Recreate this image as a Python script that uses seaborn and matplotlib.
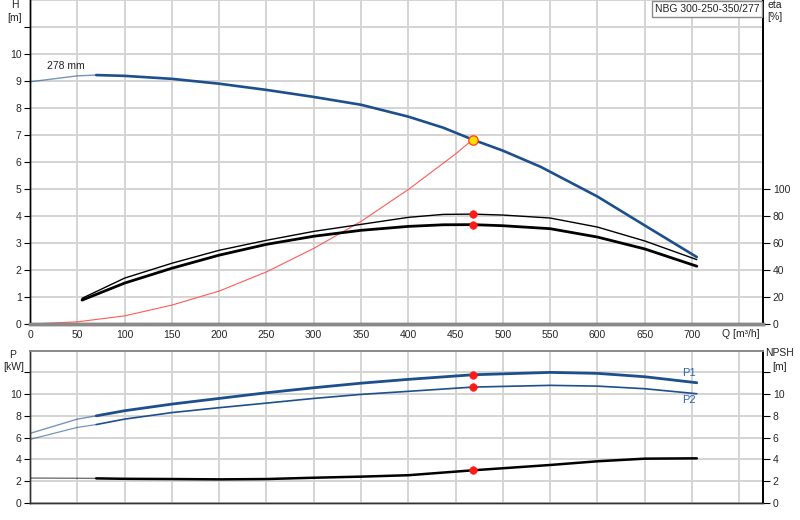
import matplotlib
matplotlib.use("Agg")
import matplotlib.pyplot as plt
import seaborn as sns
import numpy as np

# ---------------- data ----------------
Q_H = [0, 50, 70, 100, 150, 200, 250, 300, 350, 400, 437, 468, 500, 540, 600, 650, 705]
H = [8.97, 9.19, 9.22, 9.19, 9.08, 8.9, 8.67, 8.41, 8.12, 7.68, 7.27, 6.83, 6.42, 5.82, 4.72, 3.65, 2.48]

Q_eta = [55, 100, 150, 200, 250, 300, 350, 400, 437, 468, 500, 550, 600, 650, 705]
eta_upper = [19, 34, 45, 54.6, 62, 68.6, 73.8, 79.0, 81.2, 81.4, 80.7, 78.5, 71.8, 61.5, 47.7]
eta_lower = [17.7, 30.3, 41.3, 51, 59, 65, 69.4, 72.3, 73.5, 73.6, 72.8, 70.6, 64.4, 55.6, 42.8]

Q_sys = [0, 50, 100, 150, 200, 250, 300, 350, 400, 450, 468]
H_sys = [0, 0.08, 0.30, 0.70, 1.22, 1.93, 2.80, 3.80, 4.98, 6.30, 6.83]

Q_P = [0, 50, 70, 100, 150, 200, 250, 300, 350, 400, 468, 550, 600, 650, 705]
P1 = [6.39, 7.7, 8.0, 8.47, 9.08, 9.6, 10.12, 10.58, 11.0, 11.35, 11.77, 11.99, 11.9, 11.59, 11.04]
P2 = [5.84, 6.94, 7.2, 7.7, 8.3, 8.75, 9.17, 9.6, 9.97, 10.25, 10.64, 10.8, 10.73, 10.49, 10.03]
NPSH = [2.29, 2.27, 2.26, 2.22, 2.2, 2.17, 2.2, 2.32, 2.42, 2.55, 3.0, 3.49, 3.83, 4.07, 4.1]

Q_duty = 468
H_duty = 6.83
eta_duty = [81.4, 73.6]
P_duty = [11.77, 10.64]
NPSH_duty = 3.0

x_ticks = list(range(0, 701, 50))
H_ticks = list(range(0, 11))
eta_ticks = list(range(0, 101, 20))
P_ticks = list(range(0, 11, 2))

title_text = "NBG 300-250-350/277"
curve_label = "278 mm"

# ---------------- style ----------------
sns.set_theme(style="white")
plt.rcParams['font.family'] = ['Liberation Sans', 'DejaVu Sans']
FS = 7.5
BLUE = "#1c4f8c"
GRID = "#d4d4d4"

fig = plt.figure(figsize=(8, 5.2), dpi=100)
fig.patch.set_facecolor("white")

L, R = 30 / 800, 763 / 800
ax1 = fig.add_axes([L, 1 - 324 / 520, R - L, 324 / 520])
ax2 = fig.add_axes([L, 1 - 503 / 520, R - L, (503 - 350.5) / 520])

XMAX = 775

def grid(ax, ymax, ystep):
    for q in range(0, 751, 50):
        ax.axvline(q, color=GRID, lw=1.4, zorder=0)
    for v in np.arange(0, ymax + 0.01, ystep):
        ax.axhline(v, color=GRID, lw=1.4, zorder=0)

# ---------------- top panel ----------------
ax1.set_xlim(0, XMAX)
ax1.set_ylim(0, 12)
grid(ax1, 12, 1)

def split_plot(ax, x, y, cut, color, lw, lw_thin, alpha_thin=0.6):
    xs = np.array(x); ys = np.array(y)
    m1 = xs <= cut
    m2 = xs >= cut
    sns.lineplot(x=xs[m1], y=ys[m1], ax=ax, color=color, lw=lw_thin, alpha=alpha_thin,
                 sort=False, estimator=None)
    sns.lineplot(x=xs[m2], y=ys[m2], ax=ax, color=color, lw=lw, sort=False, estimator=None)

split_plot(ax1, Q_H, H, 70, BLUE, 1.9, 1.0)
sns.lineplot(x=Q_sys, y=H_sys, ax=ax1, color="#ff5a5a", lw=0.8, sort=False, estimator=None)

ax1r = ax1.twinx()
ax1r.set_ylim(0, 240)
ax1r.set_xlim(0, XMAX)
sns.lineplot(x=Q_eta, y=eta_upper, ax=ax1r, color="black", lw=1.0, sort=False, estimator=None)
sns.lineplot(x=Q_eta, y=eta_lower, ax=ax1r, color="black", lw=2.0, sort=False, estimator=None)
sns.scatterplot(x=[Q_duty, Q_duty], y=eta_duty, ax=ax1r, color="#ff1a1a", s=30,
                edgecolor="#ff1a1a", zorder=5)
ax1r.scatter([Q_duty], [H_duty * 20], s=45, color="#ffe000", edgecolor="#ff4a1a",
             linewidth=1.0, zorder=6)

ax1.set_xticks(x_ticks)
ax1.set_xticklabels([str(v) for v in x_ticks], fontsize=FS)
ax1.set_yticks(H_ticks + [11])
ax1.set_yticklabels([str(v) for v in H_ticks] + [""], fontsize=FS)
ax1r.set_yticks(eta_ticks)
ax1r.set_yticklabels([str(v) for v in eta_ticks], fontsize=FS)
ax1.tick_params(axis='x', length=0, pad=4)
ax1.tick_params(axis='y', length=4, width=0.8, color="black", pad=2, direction='out', left=True)
ax1r.tick_params(axis='y', length=5, width=0.8, color="black", pad=2, direction='out', right=True)
for a in (ax1, ax1r):
    a.set_xlabel(""); a.set_ylabel("")
    a.spines['top'].set_visible(False)
    a.spines['bottom'].set_color("#8a8a8a")
    a.spines['bottom'].set_linewidth(2.5)
    a.spines['left'].set_color("black")
    a.spines['left'].set_linewidth(1.0)
    a.spines['right'].set_color("black")
    a.spines['right'].set_linewidth(1.3)

ax1.text(18, 9.57, curve_label, fontsize=FS, va='center', ha='left', color="#222222")

# ---------------- bottom panel ----------------
ax2.set_xlim(0, XMAX)
ax2.set_ylim(0, 14)
grid(ax2, 14, 2)
split_plot(ax2, Q_P, P1, 70, BLUE, 2.0, 1.0)
split_plot(ax2, Q_P, P2, 70, BLUE, 1.2, 0.9)
split_plot(ax2, Q_P, NPSH, 70, "black", 1.8, 1.0, alpha_thin=0.55)
sns.scatterplot(x=[Q_duty, Q_duty, Q_duty], y=P_duty + [NPSH_duty], ax=ax2,
                color="#ff1a1a", s=30, edgecolor="#ff1a1a", zorder=5)

ax2r = ax2.twinx()
ax2r.set_ylim(0, 14)
ax2r.set_xlim(0, XMAX)
ax2.set_xticks(x_ticks)
ax2.set_xticklabels([])
ax2.tick_params(axis='x', length=0)
ax2.set_yticks(P_ticks + [12])
ax2.set_yticklabels([str(v) for v in P_ticks] + [""], fontsize=FS)
ax2r.set_yticks(P_ticks + [12])
ax2r.set_yticklabels([str(v) for v in P_ticks] + [""], fontsize=FS)
ax2.tick_params(axis='y', length=4, width=0.8, color="black", pad=2, direction='out', left=True)
ax2r.tick_params(axis='y', length=5, width=0.8, color="black", pad=2, direction='out', right=True)
for a in (ax2, ax2r):
    a.set_xlabel(""); a.set_ylabel("")
    a.spines['top'].set_color("#8a8a8a")
    a.spines['top'].set_linewidth(1.3)
    a.spines['bottom'].set_color("#333333")
    a.spines['bottom'].set_linewidth(1.0)
    a.spines['left'].set_color("#333333")
    a.spines['left'].set_linewidth(1.0)
    a.spines['right'].set_color("black")
    a.spines['right'].set_linewidth(1.3)

ax2.text(697, 11.9, "P1", fontsize=FS + 0.5, color="#2a64b0", ha='center', va='center')
ax2.text(697, 9.45, "P2", fontsize=FS + 0.5, color="#2a64b0", ha='center', va='center')

# ---------------- axis titles / labels ----------------
def ftext(x, y, s, ha='center'):
    fig.text(x / 800, 1 - y / 520, s, fontsize=FS, ha=ha, va='center', color="#222222")

ftext(15, 5, "H")
ftext(15, 18, "[m]")
ftext(767, 5, "eta", ha='left')
ftext(767, 17, "[%]", ha='left')
ftext(13, 355, "P")
ftext(14, 367, "[kW]")
ftext(779, 353, "NPSH")
ftext(780, 367, "[m]")
ftext(722, 334, "Q [m³/h]", ha='left')

fig.text(707 / 800, 1 - 9 / 520, title_text, fontsize=FS, ha='center', va='center',
         color="#222222",
         bbox=dict(boxstyle="square,pad=0.3", fc="white", ec="#8a8a8a", lw=1.0))

fig.savefig("out.png", dpi=100, facecolor="white")
